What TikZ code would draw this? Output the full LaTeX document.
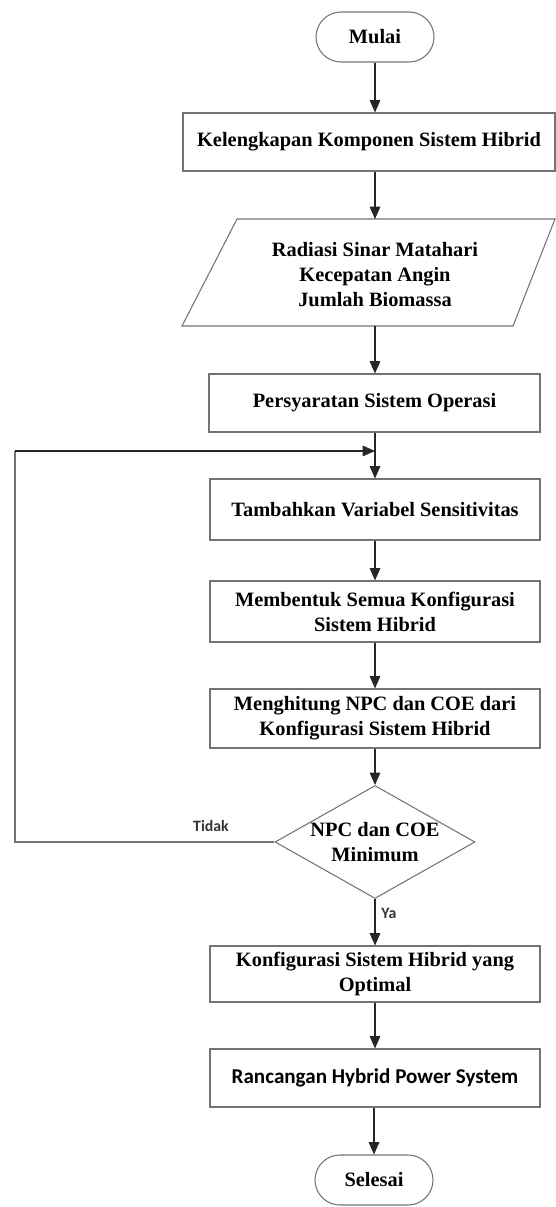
\documentclass[tikz,border=0pt]{standalone}
\usepackage{fontspec}
\setmainfont{Liberation Serif}
\newfontfamily\calibri{Carlito}
\usepackage{tikz}
\usetikzlibrary{arrows.meta, shapes.geometric}

\tikzset{
    kotak/.style={draw=black!55, line width=0.6pt, align=center, inner sep=2pt,
        font=\fontsize{11.6}{14.2}\selectfont\bfseries},
    terminal/.style={kotak, rounded corners=0.5cm, minimum width=2.36cm, minimum height=1cm},
    keputusan/.style={draw=black!55, line width=0.6pt, diamond, inner sep=0pt,
        minimum width=4cm, minimum height=2.26cm},
    panah/.style={-{Triangle[width=6pt,length=7pt]}, line width=0.6pt, black!85},
    garis/.style={line width=0.6pt, black!85},
    ket/.style={font=\calibri\fontsize{9}{10}\selectfont\bfseries, text=black!80}
}

\begin{document}
\begin{tikzpicture}
    \useasboundingbox (0,0) rectangle (11.12,-24.14);
    \node[terminal] (mulai) at (7.5,-0.74) {Mulai};
    \node[kotak, minimum width=7.44cm, minimum height=1.16cm] (lengkap) at (7.38,-2.84) {Kelengkapan Komponen Sistem Hibrid};
    \coordinate (p1) at (4.74,-4.38);
    \coordinate (p2) at (11.1,-4.38);
    \coordinate (p3) at (10.26,-6.52);
    \coordinate (p4) at (3.64,-6.52);
    \draw[draw=black!55, line width=0.6pt] (p1) -- (p2) -- (p3) -- (p4) -- cycle;
    \node[align=center, font=\fontsize{11.6}{14.2}\selectfont\bfseries] (masukan) at (7.5,-5.5) {Radiasi Sinar Matahari\\Kecepatan Angin\\Jumlah Biomassa};
    \coordinate (masukanatas) at (7.5,-4.38);
    \coordinate (masukanbawah) at (7.5,-6.52);
    \node[kotak, minimum width=6.62cm, minimum height=1.16cm] (syarat) at (7.49,-8.06) {Persyaratan Sistem Operasi};
    \coordinate (gabung) at (7.5,-9.02);
    \node[kotak, minimum width=6.6cm, minimum height=1.22cm] (tambah) at (7.5,-10.19) {Tambahkan Variabel Sensitivitas};
    \node[kotak, minimum width=6.6cm, minimum height=1.22cm] (bentuk) at (7.5,-12.23) {Membentuk Semua Konfigurasi\\Sistem Hibrid};
    \node[kotak, minimum width=6.6cm, minimum height=1.18cm] (hitung) at (7.5,-14.37) {Menghitung NPC dan COE dari\\Konfigurasi Sistem Hibrid};
    \node[keputusan] (cek) at (7.5,-16.84) {};
    \node[align=center, font=\fontsize{11.6}{14.2}\selectfont\bfseries] (cekteks) at (cek) {NPC dan COE\\Minimum};
    \node[kotak, minimum width=6.6cm, minimum height=1.12cm] (optimal) at (7.5,-19.48) {Konfigurasi Sistem Hibrid yang\\Optimal};
    \node[kotak, minimum width=6.6cm, minimum height=1.16cm, font=\calibri\fontsize{12}{14.2}\selectfont\bfseries] (rancang) at (7.5,-21.56) {Rancangan Hybrid Power System};
    \node[terminal] (selesai) at (7.48,-23.6) {Selesai};
    \coordinate (kiribawah) at (0.3,-16.84);
    \coordinate (kiriatas) at (0.3,-9.02);

    \draw[panah] (mulai) -- (mulai |- lengkap.north);
    \draw[panah] (lengkap.south -| masukanatas) -- (masukanatas);
    \draw[panah] (masukanbawah) -- (syarat.north -| masukanbawah);
    \draw[garis] (syarat.south -| gabung) -- (gabung);
    \draw[panah] (gabung) -- (tambah);
    \draw[panah] (tambah) -- (bentuk);
    \draw[panah] (bentuk) -- (hitung);
    \draw[panah] (hitung) -- (cek);
    \draw[panah] (cek) -- node[ket, right, pos=0.3] (ya) {Ya} (optimal);
    \draw[panah] (optimal) -- (rancang);
    \draw[panah] (rancang.south -| selesai) -- (selesai);
    \draw[draw=black!55, line width=0.6pt] (cek.west) -- (kiribawah) -- (kiriatas);
    \draw[panah] (kiriatas) -- (gabung);
    \node[ket] (tidak) at (4.22,-16.52) {Tidak};
\end{tikzpicture}
\end{document}
